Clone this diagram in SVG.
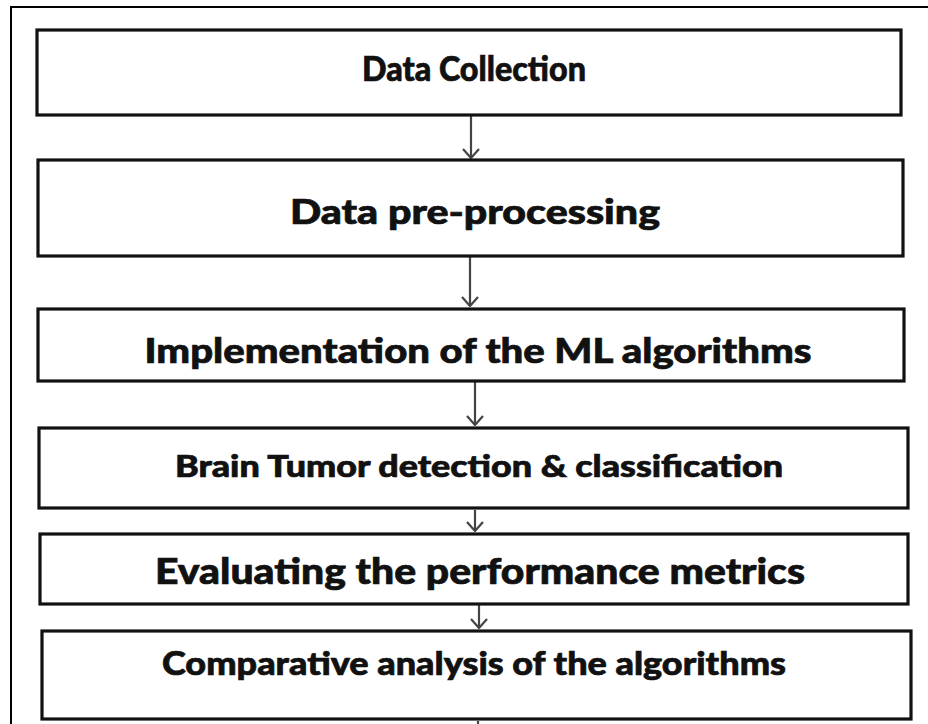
<svg xmlns="http://www.w3.org/2000/svg" width="928" height="724" viewBox="0 0 928 724">
  <style>
    .frame { fill: none; stroke: #000; stroke-width: 2; }
    .box { fill: #fff; stroke: #111; stroke-width: 3.2; }
    .label { font-family: "Lato", "DejaVu Sans", sans-serif; font-weight: 900; fill: #111; stroke: #111; stroke-width: 0.7; text-anchor: middle; }
    .link { fill: none; stroke: #444; stroke-width: 2.2; }
  </style>
  <defs>
    <!-- open chevron head, drawn along the marker's +x axis -->
    <marker id="chev" viewBox="0 0 12 20" refX="11" refY="10" markerWidth="12" markerHeight="20" markerUnits="userSpaceOnUse" orient="auto">
      <path d="M2,2 L11,10 L2,18" fill="none" stroke="#444" stroke-width="2.2"/>
    </marker>
  </defs>

  <rect x="0" y="0" width="928" height="724" fill="#fff"/>
  <!-- outer frame: left and top edges only reach into the view -->
  <path class="frame" d="M11,724 L11,7 L928,7"/>

  <g id="connectors">
    <line class="link" x1="471" y1="116" x2="471" y2="158" marker-end="url(#chev)"/>
    <line class="link" x1="470" y1="257" x2="470" y2="306" marker-end="url(#chev)"/>
    <line class="link" x1="475" y1="382" x2="475" y2="425" marker-end="url(#chev)"/>
    <line class="link" x1="475" y1="510" x2="475" y2="531" marker-end="url(#chev)"/>
    <line class="link" x1="479" y1="605" x2="479" y2="628" marker-end="url(#chev)"/>
    <line class="link" x1="478" y1="721" x2="478" y2="724"/>
  </g>

  <g id="data-collection">
    <rect class="box" x="37" y="30" width="864" height="85"/>
    <text class="label" x="474" y="81" font-size="35" textLength="224" lengthAdjust="spacingAndGlyphs">Data Collection</text>
  </g>

  <g id="data-preprocessing">
    <rect class="box" x="38" y="160" width="865" height="96"/>
    <text class="label" x="475" y="224" font-size="34" textLength="370" lengthAdjust="spacingAndGlyphs">Data pre-processing</text>
  </g>

  <g id="ml-implementation">
    <rect class="box" x="38" y="309" width="866" height="72"/>
    <text class="label" x="478" y="363" font-size="35" textLength="667" lengthAdjust="spacingAndGlyphs">Implementation of the ML algorithms</text>
  </g>

  <g id="tumor-detection">
    <rect class="box" x="39" y="428" width="869" height="80"/>
    <text class="label" x="479" y="477" font-size="30" textLength="608" lengthAdjust="spacingAndGlyphs">Brain Tumor detection &amp; classification</text>
  </g>

  <g id="performance-metrics">
    <rect class="box" x="40" y="534" width="868" height="70"/>
    <text class="label" x="480" y="584" font-size="36" textLength="650" lengthAdjust="spacingAndGlyphs">Evaluating the performance metrics</text>
  </g>

  <g id="comparative-analysis">
    <rect class="box" x="42" y="631" width="869" height="88"/>
    <text class="label" x="474" y="675" font-size="33" textLength="624" lengthAdjust="spacingAndGlyphs">Comparative analysis of the algorithms</text>
  </g>
</svg>
